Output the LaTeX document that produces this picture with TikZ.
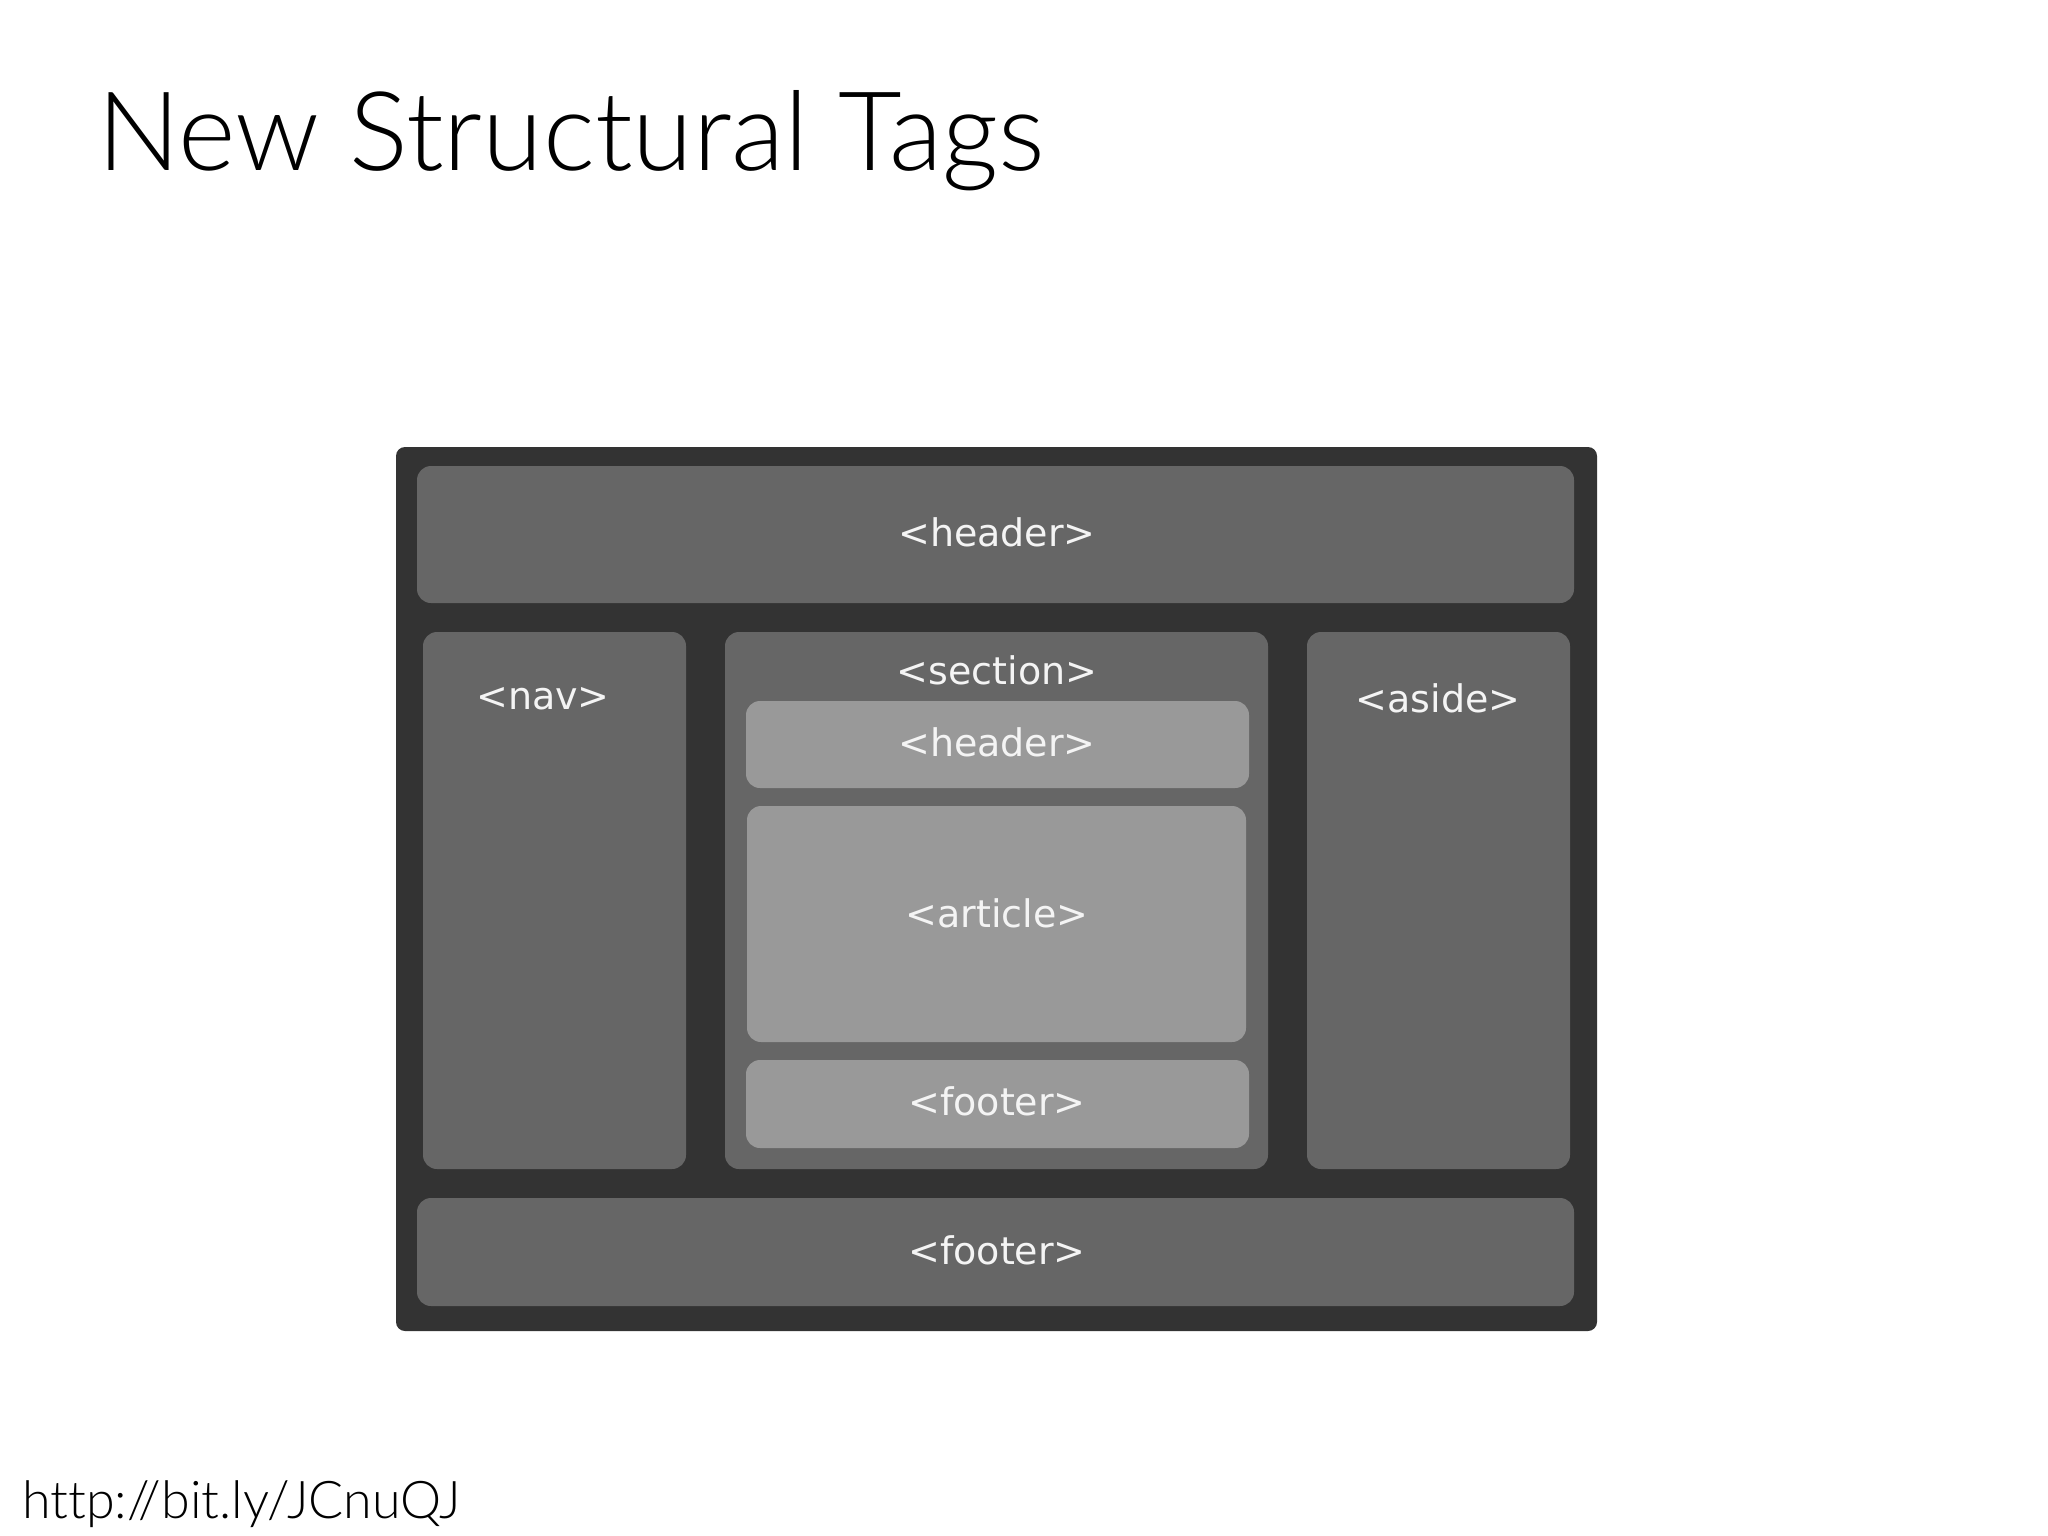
\documentclass[tikz,border=0pt]{standalone}
\usepackage{fontspec}
\setmainfont{Lato Light}
\newfontfamily\tagfont{DejaVu Sans}
\definecolor{framegray}{HTML}{333333}
\definecolor{boxgray}{HTML}{666666}
\definecolor{innergray}{HTML}{999999}
\definecolor{tagwhite}{HTML}{F4F4F4}
\tikzset{
  outerbox/.style={fill=framegray,rounded corners=9pt},
  midbox/.style={fill=boxgray,rounded corners=14pt},
  innerbox/.style={fill=innergray,rounded corners=14pt},
  taglabel/.style={text=tagwhite,font=\tagfont\fontsize{38}{38}\selectfont,anchor=base,inner sep=0pt},
}
\begin{document}
\begin{tikzpicture}[x=1pt,y=-1pt]
  \useasboundingbox[fill=white] (0,0) rectangle (2048,1536);
  % page title and source
  \node[anchor=base west,inner sep=0pt,font=\fontsize{110}{110}\selectfont] (title) at (97,171) {New Structural Tags};
  \node[anchor=base west,inner sep=0pt,font=\fontsize{52}{52}\selectfont\addfontfeature{Ligatures=NoCommon}] (link) at (22,1518) {http://bit.ly/JCnuQJ};
  % page layout
  \fill[outerbox] (396,447) rectangle (1597,1331);
  \fill[midbox] (417,466) rectangle (1574,603);
  \fill[midbox] (423,632) rectangle (686,1169);
  \fill[midbox] (725,632) rectangle (1268,1169);
  \fill[midbox] (1307,632) rectangle (1570,1169);
  \fill[midbox] (417,1198) rectangle (1574,1306);
  % inside the section
  \fill[innerbox] (746,701) rectangle (1249,788);
  \fill[innerbox] (747,806) rectangle (1246,1042);
  \fill[innerbox] (746,1060) rectangle (1249,1148);
  % tags
  \node[taglabel] (header) at (997,546) {<header>};
  \node[taglabel] (nav) at (543,709) {<nav>};
  \node[taglabel] (section) at (997,684) {<section>};
  \node[taglabel] (secheader) at (997,756) {<header>};
  \node[taglabel] (article) at (997,927) {<article>};
  \node[taglabel] (secfooter) at (997,1115) {<footer>};
  \node[taglabel] (aside) at (1438,712) {<aside>};
  \node[taglabel] (footer) at (997,1264) {<footer>};
\end{tikzpicture}
\end{document}
